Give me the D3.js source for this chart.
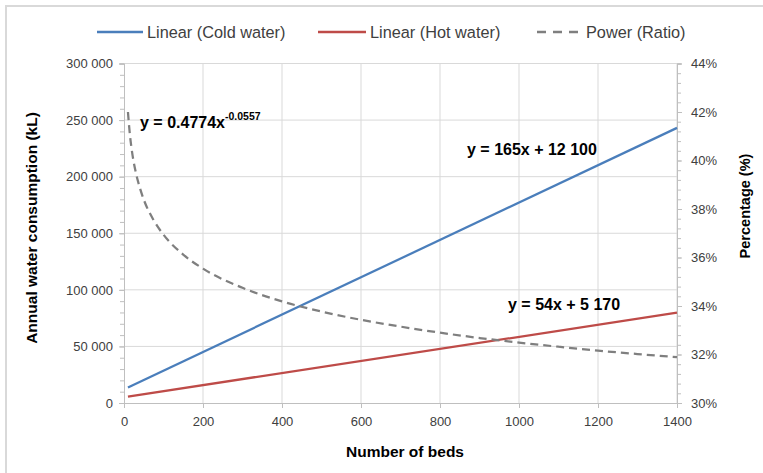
<!DOCTYPE html>
<html lang="en">
<head>
<meta charset="UTF-8">
<title>Water consumption vs number of beds</title>
<style>
  html, body { margin: 0; padding: 0; background: #fff; }
  svg { display: block; font-family: "Liberation Sans", Arial, sans-serif; }
  .tick text { fill: #404040; font-size: 13px; }
  .grid line { stroke: #d9d9d9; }
  .axis-title { font-weight: bold; fill: #000; }
  .eq { font-weight: bold; font-size: 16px; fill: #000; }
</style>
</head>
<body>
<svg id="chart" width="763" height="473"></svg>
<script src="https://cdn.jsdelivr.net/npm/d3@7"></script>
<script>
// trendline end points (beds -> kL)
const bedsLinear = [10, 1400];
const coldWater = [13750, 243100];
const hotWater = [5710, 79770];

// power trendline for the hot/total ratio (%)
const ratioBeds = [10, 15, 20, 30, 40, 50, 75, 100, 150, 200, 300, 400, 500, 600, 700, 800, 900, 1000, 1100, 1200, 1300, 1400];
const ratioPct = [42.0, 41.06, 40.4, 39.5, 38.88, 38.39, 37.54, 36.94, 36.12, 35.54, 34.75, 34.19, 33.77, 33.43, 33.15, 32.9, 32.68, 32.49, 32.32, 32.16, 32.02, 31.89];

const xTicks = [0, 200, 400, 600, 800, 1000, 1200, 1400];
const leftTicks = [0, 50000, 100000, 150000, 200000, 250000, 300000];
const rightTicks = [30, 32, 34, 36, 38, 40, 42, 44];

const legendItems = [
  { label: "Linear (Cold water)", color: "#4a7ebb", dash: null },
  { label: "Linear (Hot water)", color: "#be4b48", dash: null },
  { label: "Power (Ratio)", color: "#7f7f7f", dash: "9,7" }
];

const svg = d3.select("#chart");
const pLeft = 124, pRight = 677, pTop = 63.5, pBottom = 403;

const x = d3.scaleLinear().domain([0, 1400]).range([pLeft, pRight]);
const yL = d3.scaleLinear().domain([0, 300000]).range([pBottom, pTop]);
const yR = d3.scaleLinear().domain([30, 44]).range([pBottom, pTop]);

// outer chart border
svg.append("rect")
  .attr("x", 6).attr("y", 6).attr("width", 800).attr("height", 500)
  .attr("fill", "none").attr("stroke", "#d9d9d9").attr("stroke-width", 2);

// gridlines
const grid = svg.append("g").attr("class", "grid");
grid.selectAll("line.h").data(leftTicks.slice(1)).join("line")
  .attr("x1", pLeft).attr("x2", pRight)
  .attr("y1", d => yL(d)).attr("y2", d => yL(d));
grid.selectAll("line.v").data(xTicks.slice(1)).join("line")
  .attr("y1", pTop).attr("y2", pBottom)
  .attr("x1", d => x(d)).attr("x2", d => x(d));

const fmt = d => d3.format(",")(d).replace(/,/g, " ");

function styleAxis(g) {
  g.selectAll(".domain").attr("stroke", "#bfbfbf");
  g.selectAll(".tick line").attr("stroke", "#bfbfbf");
}

// minor ticks
svg.append("g").attr("transform", `translate(${pLeft},0)`)
  .call(d3.axisLeft(yL).tickValues(d3.range(0, 300001, 10000)).tickSize(4).tickFormat(""))
  .call(styleAxis);
svg.append("g").attr("transform", `translate(${pRight},0)`)
  .call(d3.axisRight(yR).tickValues(d3.range(0, 36).map(i => 30 + i * 0.4)).tickSize(4).tickFormat(""))
  .call(styleAxis);

// major axes
svg.append("g").attr("transform", `translate(${pLeft},0)`)
  .call(d3.axisLeft(yL).tickValues(leftTicks).tickSize(5).tickPadding(6).tickFormat(fmt))
  .call(styleAxis);
svg.append("g").attr("transform", `translate(${pRight},0)`)
  .call(d3.axisRight(yR).tickValues(rightTicks).tickSize(5).tickPadding(9).tickFormat(d => d + "%"))
  .call(styleAxis);
svg.append("g").attr("transform", `translate(0,${pBottom})`)
  .call(d3.axisBottom(x).tickValues(xTicks).tickSize(5).tickPadding(9).tickFormat(d => d))
  .call(styleAxis);

// series
const lineL = d3.line().x(d => x(d[0])).y(d => yL(d[1]));
const lineR = d3.line().x(d => x(d[0])).y(d => yR(d[1])).curve(d3.curveMonotoneX);

svg.append("path").datum(bedsLinear.map((b, i) => [b, coldWater[i]]))
  .attr("d", lineL).attr("fill", "none").attr("stroke", "#4a7ebb").attr("stroke-width", 2.25);
svg.append("path").datum(bedsLinear.map((b, i) => [b, hotWater[i]]))
  .attr("d", lineL).attr("fill", "none").attr("stroke", "#be4b48").attr("stroke-width", 2.25);
svg.append("path").datum(ratioBeds.map((b, i) => [b, ratioPct[i]]))
  .attr("d", lineR).attr("fill", "none").attr("stroke", "#7f7f7f").attr("stroke-width", 2.25)
  .attr("stroke-dasharray", "8,5");

// equation labels
const eq1 = svg.append("text").attr("class", "eq").attr("x", 140).attr("y", 128);
eq1.append("tspan").text("y = 0.4774x");
eq1.append("tspan").attr("dy", -8).attr("font-size", "10.5px").text("-0.0557");
svg.append("text").attr("class", "eq").attr("x", 467).attr("y", 155).text("y = 165x + 12 100");
svg.append("text").attr("class", "eq").attr("x", 508).attr("y", 310).text("y = 54x + 5 170");

// axis titles
svg.append("text").attr("class", "axis-title").attr("text-anchor", "middle")
  .attr("font-size", "15.5px")
  .attr("x", 405).attr("y", 457).text("Number of beds");
svg.append("text").attr("class", "axis-title").attr("text-anchor", "middle")
  .attr("font-size", "15.5px")
  .attr("transform", "translate(37,228) rotate(-90)").text("Annual water consumption (kL)");
svg.append("text").attr("class", "axis-title").attr("text-anchor", "middle")
  .attr("font-size", "14.5px")
  .attr("transform", "translate(750,206) rotate(-90)").text("Percentage (%)");

// legend
const legLine = [[97, 143], [318, 366], [537, 580]];
const leg = svg.append("g");
legendItems.forEach((it, i) => {
  const g = leg.append("g").attr("transform", "translate(0,32)");
  g.append("line").attr("x1", legLine[i][0]).attr("x2", legLine[i][1])
    .attr("stroke", it.color).attr("stroke-width", 2.5)
    .attr("stroke-dasharray", it.dash);
  g.append("text").attr("x", legLine[i][1] + (i === 2 ? 6 : 4)).attr("dy", "0.35em")
    .attr("font-size", "16.3px").attr("fill", "#404040").text(it.label);
});
</script>
</body>
</html>
